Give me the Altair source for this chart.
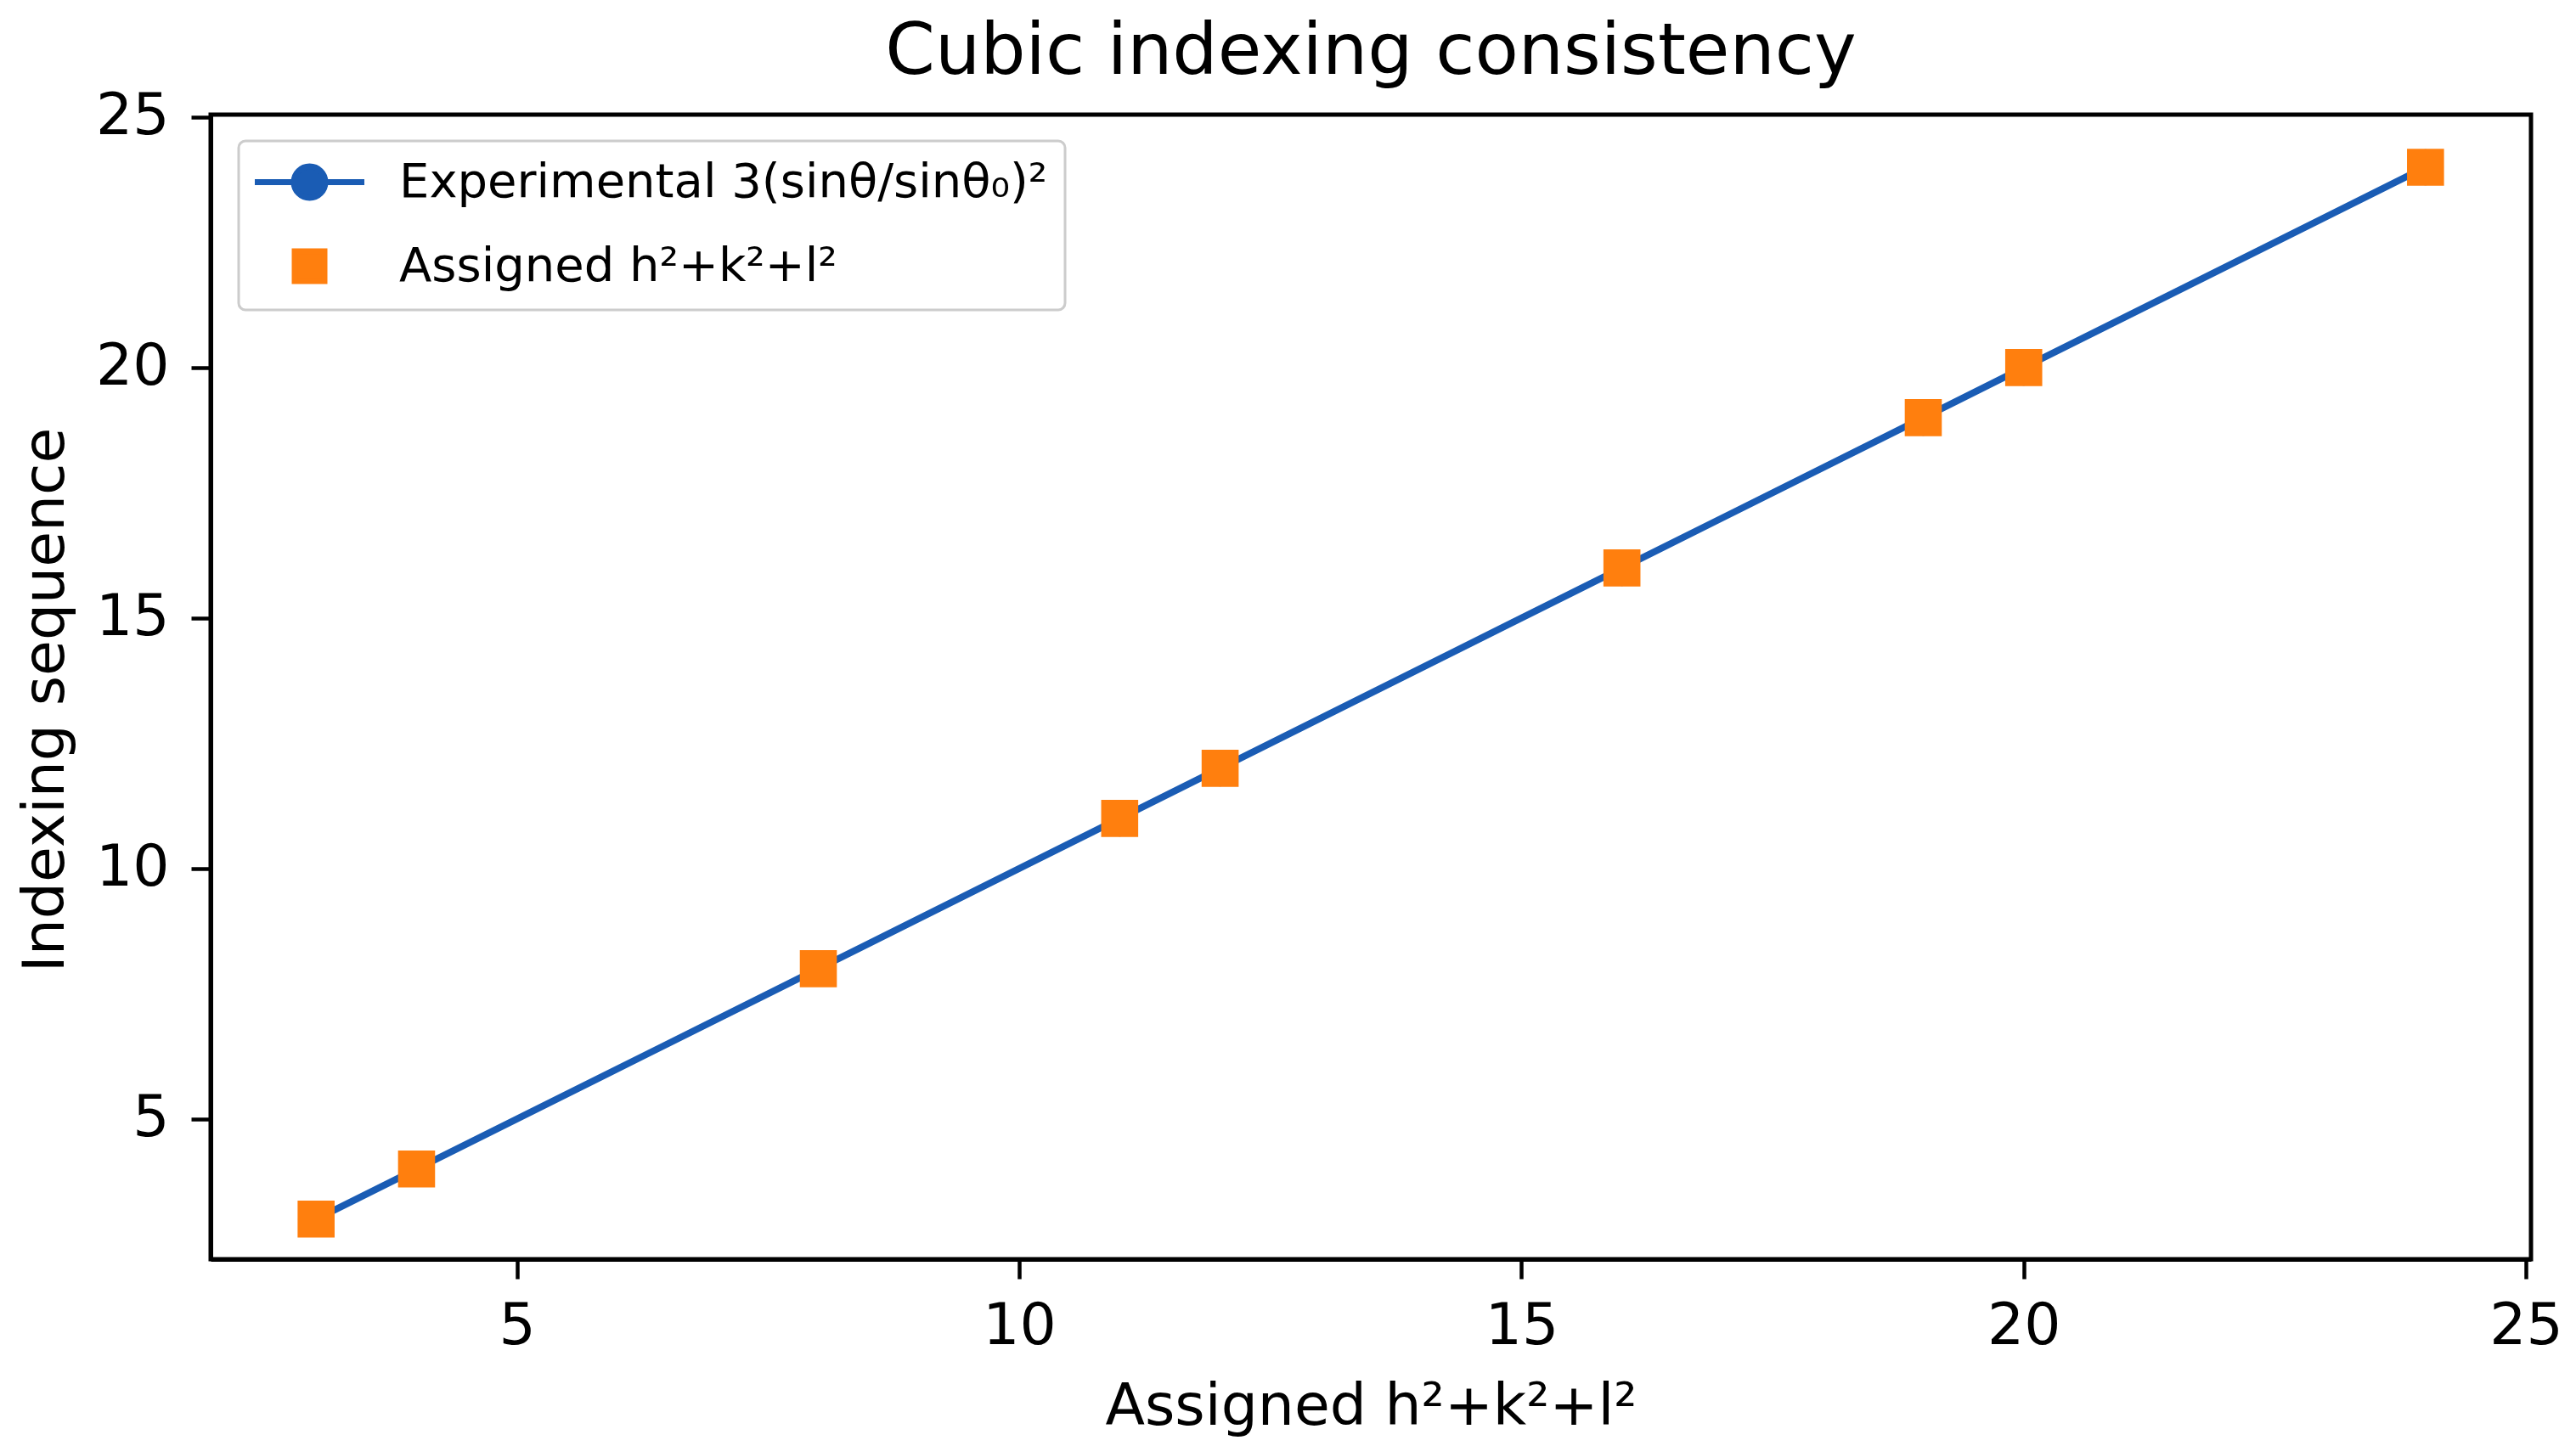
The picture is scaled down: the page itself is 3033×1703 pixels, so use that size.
import altair as alt
import pandas as pd

# ---- data ----
assigned_hkl = [3, 4, 8, 11, 12, 16, 19, 20, 24]
experimental_ratio = [3.0, 4.0, 8.0, 11.0, 12.0, 16.0, 19.0, 20.0, 24.0]
series_names = ["Experimental 3(sinθ/sinθ₀)²", "Assigned h²+k²+l²"]
series_colors = ["#1a5cb4", "#ff7f0e"]
x_ticks = [5, 10, 15, 20, 25]
y_ticks = [5, 10, 15, 20, 25]

exp_df = pd.DataFrame({"hkl": assigned_hkl, "value": experimental_ratio,
                       "series": series_names[0]})
asg_df = pd.DataFrame({"hkl": assigned_hkl, "value": assigned_hkl,
                       "series": series_names[1]})
legend_df = pd.concat([exp_df, asg_df], ignore_index=True)

FONT = "DejaVu Sans"

x_enc = alt.X("hkl:Q",
              scale=alt.Scale(domain=[1.95, 25.05], nice=False, zero=False),
              axis=alt.Axis(values=x_ticks, title="Assigned h²+k²+l²",
                            titleY=194, titleBaseline="alphabetic",
                            labelFlush=False, format="d", labelPadding=22))
y_enc = alt.Y("value:Q",
              scale=alt.Scale(domain=[2.2, 25.05], nice=False, zero=False),
              axis=alt.Axis(values=y_ticks, title="Indexing sequence",
                            titleX=-174, titleY=689, titleBaseline="alphabetic",
                            labelFlush=False, format="d"))

# legend symbol shapes (unit = 25 px): line with circle marker, and square marker
circle_path = "M-2.58,0L2.58,0M0.74,0A0.74,0.74,0,1,1,-0.74,0A0.74,0.74,0,1,1,0.74,0Z"
square_path = "M-0.7,-0.7L0.7,-0.7L0.7,0.7L-0.7,0.7Z"

legend = alt.Legend(
    title=None, orient="none", legendX=33, legendY=31, direction="vertical",
    labelFont=FONT, labelFontSize=56, labelColor="black", labelLimit=3000,
    symbolSize=2500, symbolStrokeWidth=7, symbolOpacity=1,
    symbolOffset=35, labelOffset=77, rowPadding=35,
    padding=20, fillColor="white", strokeColor="#cccccc", cornerRadius=8,
)

line = alt.Chart(exp_df).mark_line(color=series_colors[0], strokeWidth=8).encode(
    x=x_enc, y=y_enc, order="hkl:Q")
circles = alt.Chart(exp_df).mark_point(filled=True, shape="circle", size=1810,
                                       opacity=1, color=series_colors[0]).encode(
    x=x_enc, y=y_enc)
squares = alt.Chart(asg_df).mark_point(filled=True, shape="square", size=1900,
                                       opacity=1, color=series_colors[1]).encode(
    x=x_enc, y=y_enc)

# legend-only layer (draws no marks: all rows filtered out), supplies the legend
legend_layer = alt.Chart(legend_df).mark_point(filled=True, opacity=1,
                                               strokeWidth=7).encode(
    x=x_enc, y=y_enc,
    fill=alt.Fill("series:N", scale=alt.Scale(domain=series_names, range=series_colors),
                  legend=legend),
    stroke=alt.Stroke("series:N", scale=alt.Scale(domain=series_names, range=series_colors),
                      legend=legend),
    shape=alt.Shape("series:N", scale=alt.Scale(domain=series_names,
                                                range=[circle_path, square_path]),
                    legend=legend),
).transform_filter("false")

chart = alt.layer(line, circles, squares, legend_layer).properties(
    width=2732, height=1348,
    title=alt.TitleParams(text="Cubic indexing consistency", fontSize=84, font=FONT,
                          fontWeight="normal", color="black", anchor="middle",
                          baseline="alphabetic", offset=11, dy=78),
    autosize=alt.AutoSizeParams(type="none"),
    padding={"left": 240, "top": 127, "right": 45, "bottom": 212},
).configure(font=FONT, background="white").configure_view(
    stroke="black", strokeWidth=5
).configure_axis(
    domainColor="black", domainWidth=5, tickColor="black", tickWidth=4.5, tickSize=23,
    labelFont=FONT, labelFontSize=68, labelColor="black", labelPadding=26,
    titleFont=FONT, titleFontSize=68, titleFontWeight="normal", titleColor="black",
    grid=False,
).configure_legend(strokeWidth=3)

chart.save("out.html", embed_options={"renderer": "svg", "actions": False})
